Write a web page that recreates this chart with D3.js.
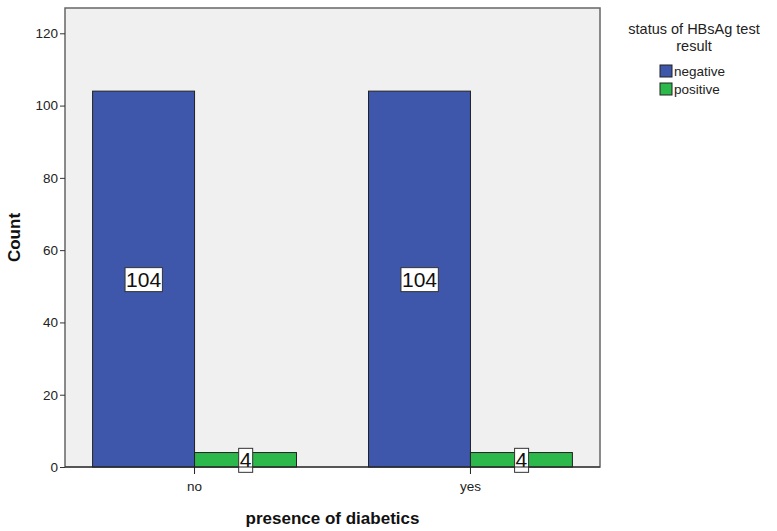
<!DOCTYPE html>
<html><head><meta charset="utf-8">
<script src="https://cdn.jsdelivr.net/npm/d3@7"></script>
<style>body{margin:0;background:#fff;} text{font-family:"Liberation Sans",Arial,sans-serif;}</style>
</head><body>
<svg id="c" width="777" height="531"></svg>
<script>
const categories = ["no", "yes"];
const groups = ["negative", "positive"];
const negativeValues = [104, 104];
const positiveValues = [4, 4];
const yTicks = [0, 20, 40, 60, 80, 100, 120];
const colors = {negative: "#3e57aa", positive: "#2db84b"};

const svg = d3.select("#c");
const L = 65, R = 600, T = 8, B = 467;
const x = d3.scaleBand().domain(categories).range([L, R]).paddingInner(0.261).paddingOuter(0.1);
const xs = d3.scaleBand().domain(groups).range([0, x.bandwidth()]);
const y = d3.scaleLinear().domain([0, 127]).range([B, T]);

svg.append("rect").attr("x", L).attr("y", T).attr("width", R - L).attr("height", B - T)
  .attr("fill", "#f0f0f0").attr("stroke", "#666").attr("stroke-width", 1.5);

const data = [];
categories.forEach((c, i) => {
  data.push({cat: c, grp: "negative", v: negativeValues[i]});
  data.push({cat: c, grp: "positive", v: positiveValues[i]});
});

svg.selectAll("rect.bar").data(data).join("rect").attr("class", "bar")
  .attr("x", d => x(d.cat) + xs(d.grp)).attr("y", d => y(d.v))
  .attr("width", xs.bandwidth()).attr("height", d => B - y(d.v))
  .attr("fill", d => colors[d.grp]).attr("stroke", "#222").attr("stroke-width", 1);

// value labels
const lab = svg.selectAll("g.lab").data(data).join("g").attr("class", "lab")
  .attr("transform", d => `translate(${x(d.cat) + xs(d.grp) + xs.bandwidth() / 2},${y(d.v / 2)})`);
lab.each(function(d) {
  const g = d3.select(this);
  const t = g.append("text").attr("text-anchor", "middle").attr("dy", "0.36em")
    .attr("font-size", 21).attr("fill", "#111").text(d.v);
  const bb = t.node().getBBox();
  g.insert("rect", "text").attr("x", bb.x - 1).attr("y", bb.y).attr("width", bb.width + 2).attr("height", bb.height + 1)
    .attr("fill", "#fff").attr("stroke", "#333").attr("stroke-width", 1);
});

// axes
const yAxis = svg.append("g").attr("transform", `translate(${L},0)`)
  .call(d3.axisLeft(y).tickValues(yTicks).tickSize(5).tickPadding(2));
yAxis.select(".domain").remove();
yAxis.selectAll("line").attr("stroke", "#333");
yAxis.selectAll("text").attr("font-size", 13.5).attr("fill", "#222");

const xAxis = svg.append("g").attr("transform", `translate(0,${B})`)
  .call(d3.axisBottom(x).tickSize(7).tickPadding(7));
xAxis.select(".domain").attr("stroke", "#222").attr("d", `M${L},0H${R}`);
xAxis.selectAll("line").attr("stroke", "#222");
xAxis.selectAll("text").attr("font-size", 13.5).attr("fill", "#222");

svg.append("text").attr("x", (L + R) / 2).attr("y", 524).attr("text-anchor", "middle")
  .attr("font-size", 17).attr("font-weight", "bold").attr("fill", "#111").text("presence of diabetics");
svg.append("text").attr("transform", `translate(20,${(T + B) / 2}) rotate(-90)`).attr("text-anchor", "middle")
  .attr("font-size", 17).attr("font-weight", "bold").attr("fill", "#111").text("Count");

// legend
const lg = svg.append("g");
lg.append("text").attr("x", 694).attr("y", 34).attr("text-anchor", "middle").attr("font-size", 14.5).attr("fill", "#222").text("status of HBsAg test");
lg.append("text").attr("x", 694).attr("y", 51).attr("text-anchor", "middle").attr("font-size", 14.5).attr("fill", "#222").text("result");
groups.forEach((gname, i) => {
  lg.append("rect").attr("x", 660).attr("y", 65 + i * 18).attr("width", 12).attr("height", 12)
    .attr("fill", colors[gname]).attr("stroke", "#222");
  lg.append("text").attr("x", 674).attr("y", 76 + i * 18).attr("font-size", 13.5).attr("fill", "#222").text(gname);
});
</script>
</body></html>
